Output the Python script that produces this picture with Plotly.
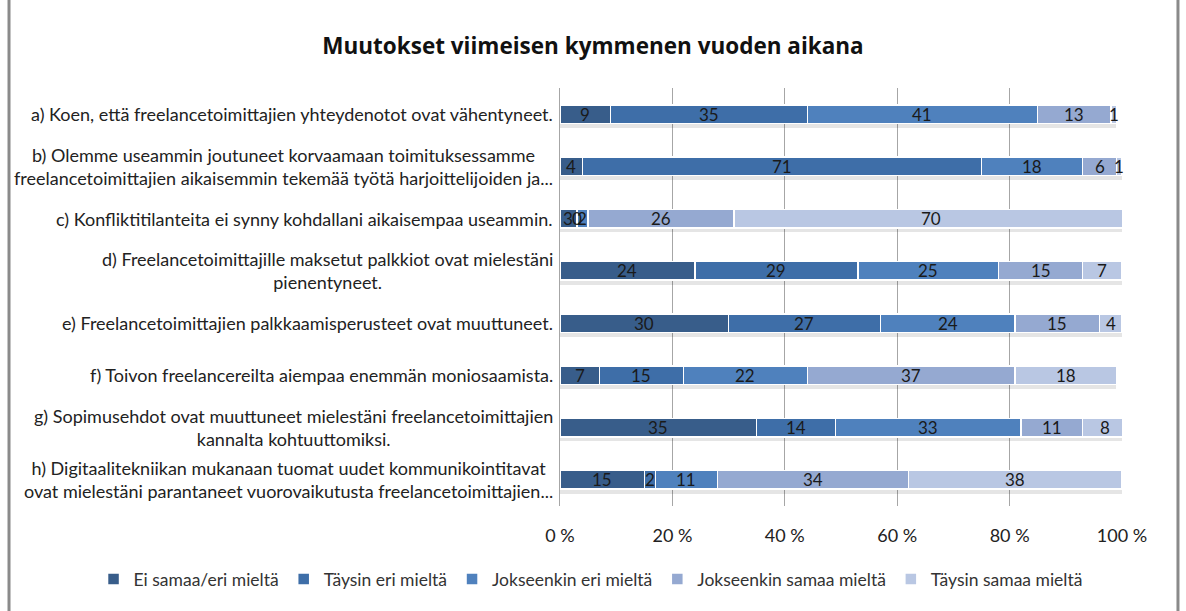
import plotly.graph_objects as go

categories = [
    "a) Koen, että freelancetoimittajien yhteydenotot ovat vähentyneet.",
    "b) Olemme useammin joutuneet korvaamaan toimituksessamme<br>freelancetoimittajien aikaisemmin tekemää työtä harjoittelijoiden ja...",
    "c) Konfliktitilanteita ei synny kohdallani aikaisempaa useammin.",
    "d) Freelancetoimittajille maksetut palkkiot ovat mielestäni<br>pienentyneet.",
    "e) Freelancetoimittajien palkkaamisperusteet ovat muuttuneet.",
    "f) Toivon freelancereilta aiempaa enemmän moniosaamista.",
    "g) Sopimusehdot ovat muuttuneet mielestäni freelancetoimittajien<br>kannalta kohtuuttomiksi.",
    "h) Digitaalitekniikan mukanaan tuomat uudet kommunikointitavat<br>ovat mielestäni parantaneet vuorovaikutusta freelancetoimittajien...",
]
series_names = ["Ei samaa/eri mieltä", "Täysin eri mieltä", "Jokseenkin eri mieltä",
                "Jokseenkin samaa mieltä", "Täysin samaa mieltä"]
ei_samaa = [9, 4, 3, 24, 30, 7, 35, 15]
taysin_eri = [35, 71, 0, 29, 27, 15, 14, 2]
jokseenkin_eri = [41, 18, 2, 25, 24, 22, 33, 11]
jokseenkin_samaa = [13, 6, 26, 15, 15, 37, 11, 34]
taysin_samaa = [1, 1, 70, 7, 4, 18, 8, 38]
series_values = [ei_samaa, taysin_eri, jokseenkin_eri, jokseenkin_samaa, taysin_samaa]
colors = ["#385D8A", "#3E6EA8", "#4F81BD", "#95A9D1", "#B9C7E3"]
tick_vals = [0, 20, 40, 60, 80, 100]
tick_text = ["0 %", "20 %", "40 %", "60 %", "80 %", "100 %"]

FONT = "Lato, 'Open Sans', sans-serif"
TITLE_FONT = "'Open Sans', sans-serif"

fig = go.Figure()

# soft drop shadow under each stacked bar (drawn on the lower, shifted axis)
totals = [sum(s[i] for s in series_values) for i in range(len(categories))]
fig.add_trace(go.Bar(
    y=categories, x=totals, orientation="h", yaxis="y", showlegend=False,
    marker=dict(color="rgba(0,0,0,0.10)", line=dict(width=0)),
    hoverinfo="skip", textposition="none",
))

for name, vals, col in zip(series_names, series_values, colors):
    fig.add_trace(go.Bar(
        y=categories, x=vals, name=name, orientation="h", yaxis="y2",
        marker=dict(color=col, line=dict(color="white", width=1.5)),
        textposition="none",
    ))

# data labels centred on each segment (positions from the cumulative data)
cum = [0] * len(categories)
for vals in series_values:
    for i, (cat, v) in enumerate(zip(categories, vals)):
        fig.add_annotation(x=cum[i] + v / 2, xref="x", y=cat, yref="y2", text=str(v),
                           showarrow=False, xanchor="center", yanchor="middle",
                           font=dict(size=17, color="#1a1a1a", family=FONT))
        cum[i] += v

for cat in categories:
    fig.add_annotation(x=0, xref="paper", y=cat, yref="y2", text=cat,
                       xanchor="right", yanchor="middle", align="center",
                       xshift=-5, showarrow=False,
                       font=dict(size=18, color="#222", family=FONT))

fig.add_shape(type="rect", xref="paper", yref="paper",
              x0=-0.9804, x1=1.0996, y0=-0.35, y1=1.216,
              line=dict(color="#8a8a8a", width=3), layer="below")

n = len(categories)
fig.update_layout(
    barmode="stack",
    width=1186, height=611,
    margin=dict(l=560, r=64, t=88, b=105),
    paper_bgcolor="white", plot_bgcolor="white",
    title=dict(text="<b>Muutokset viimeisen kymmenen vuoden aikana</b>",
               x=0.5, xanchor="center", y=0.925, yanchor="middle",
               font=dict(size=22.5, color="#111", family=TITLE_FONT)),
    bargap=0.65,
    legend=dict(orientation="h", x=-0.83, xref="paper", y=-0.175, yref="paper",
                yanchor="middle", xanchor="left",
                font=dict(size=17.5, color="#333", family=FONT),
                itemwidth=30, traceorder="normal"),
    showlegend=True,
    yaxis=dict(range=[n - 0.5 - 0.09, -0.5 - 0.09], showticklabels=False,
               showgrid=False, showline=True, linecolor="#a6a6a6", linewidth=1,
               ticks="", fixedrange=True),
    yaxis2=dict(range=[n - 0.5, -0.5], overlaying="y", showticklabels=False,
                showgrid=False, showline=False, ticks="", fixedrange=True),
)
fig.update_xaxes(range=[0, 100], tickvals=tick_vals, ticktext=tick_text,
                 showgrid=True, gridcolor="#a6a6a6", gridwidth=1,
                 zeroline=False, showline=False, ticks="", ticklabelstandoff=17,
                 tickfont=dict(size=18, color="#222", family=FONT))

fig.write_html("out.html", config={"displayModeBar": False},
               post_script="document.body.style.margin='0';")
